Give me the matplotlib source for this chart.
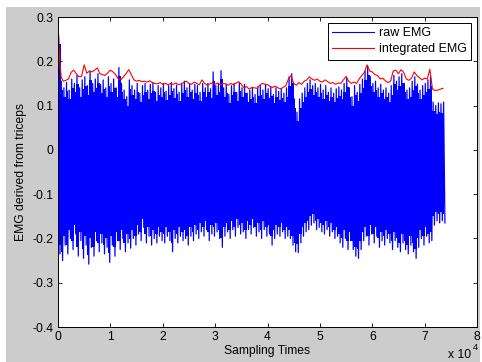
"""
Raw vs integrated EMG (triceps), MATLAB-looking figure
"""

import numpy as np
import matplotlib
matplotlib.use("Agg")
import matplotlib.pyplot as plt
from matplotlib.lines import Line2D
from matplotlib.patches import Rectangle

plt.rcParams['font.family'] = ['Liberation Sans', 'DejaVu Sans']

# raw EMG, max / min of each 500-sample block
raw_step = 500
raw_max = [
    0.258, 0.155, 0.140, 0.152, 0.135, 0.160, 0.150, 0.168, 0.140, 0.158,
    0.165, 0.145, 0.178, 0.150, 0.160, 0.172, 0.148, 0.158, 0.140, 0.165,
    0.150, 0.160, 0.140, 0.186, 0.150, 0.135, 0.120, 0.158, 0.145, 0.135,
    0.150, 0.128, 0.145, 0.150, 0.135, 0.148, 0.152, 0.130, 0.145, 0.140,
    0.150, 0.132, 0.145, 0.152, 0.138, 0.146, 0.130, 0.148, 0.155, 0.140,
    0.150, 0.135, 0.148, 0.145, 0.130, 0.150, 0.140, 0.150, 0.138, 0.176,
    0.145, 0.150, 0.179, 0.140, 0.148, 0.125, 0.145, 0.150, 0.130, 0.152,
    0.140, 0.148, 0.128, 0.135, 0.140, 0.125, 0.142, 0.145, 0.135, 0.148,
    0.138, 0.142, 0.125, 0.140, 0.132, 0.138, 0.128, 0.140, 0.165, 0.172,
    0.115, 0.085, 0.115, 0.128, 0.140, 0.150, 0.158, 0.145, 0.150, 0.140,
    0.148, 0.135, 0.145, 0.130, 0.140, 0.128, 0.138, 0.142, 0.135, 0.150,
    0.162, 0.140, 0.120, 0.145, 0.130, 0.148, 0.160, 0.178, 0.190, 0.165,
    0.150, 0.155, 0.140, 0.148, 0.135, 0.140, 0.128, 0.145, 0.168, 0.155,
    0.165, 0.172, 0.150, 0.135, 0.140, 0.155, 0.165, 0.148, 0.135, 0.145,
    0.150, 0.158, 0.165, 0.108, 0.100, 0.106, 0.104, 0.108,
]
raw_min = [
    -0.235, -0.250, -0.215, -0.235, -0.200, -0.225, -0.190, -0.240, -0.205, -0.245,
    -0.215, -0.258, -0.220, -0.240, -0.205, -0.230, -0.210, -0.235, -0.220, -0.254,
    -0.215, -0.240, -0.205, -0.225, -0.200, -0.230, -0.210, -0.222, -0.200, -0.215,
    -0.190, -0.205, -0.175, -0.210, -0.195, -0.215, -0.200, -0.210, -0.195, -0.205,
    -0.210, -0.195, -0.205, -0.230, -0.200, -0.210, -0.195, -0.205, -0.200, -0.215,
    -0.195, -0.205, -0.190, -0.200, -0.185, -0.195, -0.180, -0.205, -0.190, -0.195,
    -0.185, -0.200, -0.220, -0.195, -0.185, -0.200, -0.180, -0.195, -0.175, -0.190,
    -0.185, -0.200, -0.180, -0.190, -0.175, -0.195, -0.185, -0.200, -0.180, -0.195,
    -0.190, -0.215, -0.200, -0.190, -0.195, -0.185, -0.200, -0.195, -0.200, -0.215,
    -0.230, -0.232, -0.210, -0.195, -0.185, -0.180, -0.170, -0.165, -0.180, -0.175,
    -0.185, -0.190, -0.180, -0.195, -0.185, -0.200, -0.195, -0.210, -0.220, -0.200,
    -0.225, -0.205, -0.225, -0.240, -0.245, -0.225, -0.205, -0.195, -0.215, -0.190,
    -0.210, -0.195, -0.220, -0.205, -0.215, -0.200, -0.210, -0.225, -0.205, -0.220,
    -0.230, -0.210, -0.225, -0.235, -0.215, -0.230, -0.245, -0.220, -0.200, -0.215,
    -0.195, -0.210, -0.205, -0.170, -0.160, -0.165, -0.160, -0.165,
]

# integrated EMG: onset samples, then every 500 samples from 1000
ie_head_t = [0, 60, 300, 600]
ie_head_v = [0.0, 0.265, 0.205, 0.165]
ie_tail = [
    0.155, 0.157, 0.160, 0.175, 0.180, 0.172, 0.165, 0.166, 0.192, 0.173,
    0.178, 0.176, 0.180, 0.185, 0.172, 0.170, 0.168, 0.174, 0.180, 0.176,
    0.170, 0.160, 0.158, 0.165, 0.172, 0.181, 0.170, 0.158, 0.155, 0.157,
    0.154, 0.155, 0.153, 0.156, 0.152, 0.150, 0.149, 0.152, 0.148, 0.150,
    0.147, 0.150, 0.148, 0.151, 0.147, 0.149, 0.152, 0.155, 0.150, 0.148,
    0.153, 0.150, 0.147, 0.158, 0.150, 0.146, 0.149, 0.152, 0.148, 0.151,
    0.147, 0.150, 0.149, 0.146, 0.150, 0.147, 0.151, 0.154, 0.148, 0.140,
    0.143, 0.137, 0.141, 0.140, 0.139, 0.146, 0.150, 0.148, 0.147, 0.143,
    0.141, 0.144, 0.140, 0.138, 0.141, 0.145, 0.160, 0.168, 0.150, 0.146,
    0.152, 0.148, 0.155, 0.158, 0.165, 0.160, 0.157, 0.160, 0.155, 0.153,
    0.158, 0.154, 0.150, 0.152, 0.148, 0.151, 0.150, 0.158, 0.166, 0.155,
    0.150, 0.153, 0.150, 0.160, 0.168, 0.175, 0.192, 0.178, 0.176, 0.170,
    0.168, 0.160, 0.162, 0.156, 0.152, 0.155, 0.178, 0.180, 0.172, 0.181,
    0.175, 0.160, 0.157, 0.162, 0.176, 0.168, 0.163, 0.158, 0.162, 0.160,
    0.182, 0.137, 0.134, 0.135, 0.137, 0.139,
]

xticks = [0, 1, 2, 3, 4, 5, 6, 7, 8]
yticks = [-0.4, -0.3, -0.2, -0.1, 0, 0.1, 0.2, 0.3]
ytick_labels = ['-0.4', '-0.3', '-0.2', '-0.1', '0', '0.1', '0.2', '0.3']


def rawBlocks():
    t = np.arange(len(raw_max)) * raw_step + raw_step / 2
    return t / 1e4, np.array(raw_min), np.array(raw_max)


def rawTrace():
    # min/max decimated signal: zigzag through block max then block min
    n = len(raw_max)
    t = np.empty(2 * n)
    v = np.empty(2 * n)
    t[0::2] = np.arange(n) * raw_step + raw_step * 0.25
    t[1::2] = np.arange(n) * raw_step + raw_step * 0.75
    v[0::2] = raw_max
    v[1::2] = raw_min
    return t / 1e4, v


def integratedTrace():
    t = ie_head_t + [1000 + raw_step * i for i in range(len(ie_tail))]
    v = ie_head_v + ie_tail
    return np.array(t) / 1e4, np.array(v)


fig = plt.figure(figsize=(4.82, 3.62), dpi=100, facecolor='white')
fig.patches.append(Rectangle((6 / 482, 0), 474 / 482, 355 / 362,
                             transform=fig.transFigure, facecolor='#cccccc',
                             edgecolor='none', zorder=-10))
ax = fig.add_axes([58 / 482, 35 / 362, 419 / 482, 310 / 362])

bt, blo, bhi = rawBlocks()
# solid body of the signal: a bit inside the block extremes
ax.fill_between(bt, blo + 0.02, bhi - 0.02, step='mid', color='#0000ff', lw=0)
rt, rv = rawTrace()
ax.plot(rt, rv, color='#0000ff', lw=0.9)
it, iv = integratedTrace()
ax.plot(it, iv, color='#ff0000', lw=0.8)

ax.set_xlim(0, 8)
ax.set_ylim(-0.4, 0.3)
ax.set_xticks(xticks)
ax.set_xticklabels([str(x) for x in xticks])
ax.set_yticks(yticks)
ax.set_yticklabels(ytick_labels)
ax.tick_params(direction='in', length=3, width=0.6, labelsize=8.7,
               top=True, right=True, pad=3)
for s in ax.spines.values():
    s.set_linewidth(0.7)

ax.set_xlabel('Sampling Times', fontsize=8.7, labelpad=1)
ax.set_ylabel('EMG derived from triceps', fontsize=8.7, labelpad=4)
fig.text(448 / 482, 1 - 355 / 362, 'x 10', fontsize=8.7, va='center')
fig.text(473 / 482, 1 - 347 / 362, '4', fontsize=6.5, va='center')

handles = [Line2D([], [], color='#0000ff', lw=0.8),
           Line2D([], [], color='#ff0000', lw=0.8)]
leg = ax.legend(handles, ['raw EMG', 'integrated EMG'], loc='upper right',
                fontsize=9, fancybox=False, framealpha=1, edgecolor='black',
                borderaxespad=0.45, handlelength=3.3, handletextpad=0.45,
                labelspacing=0.35, borderpad=0.35)
leg.get_frame().set_linewidth(0.7)

fig.savefig('out.png', dpi=100, facecolor=fig.get_facecolor())
